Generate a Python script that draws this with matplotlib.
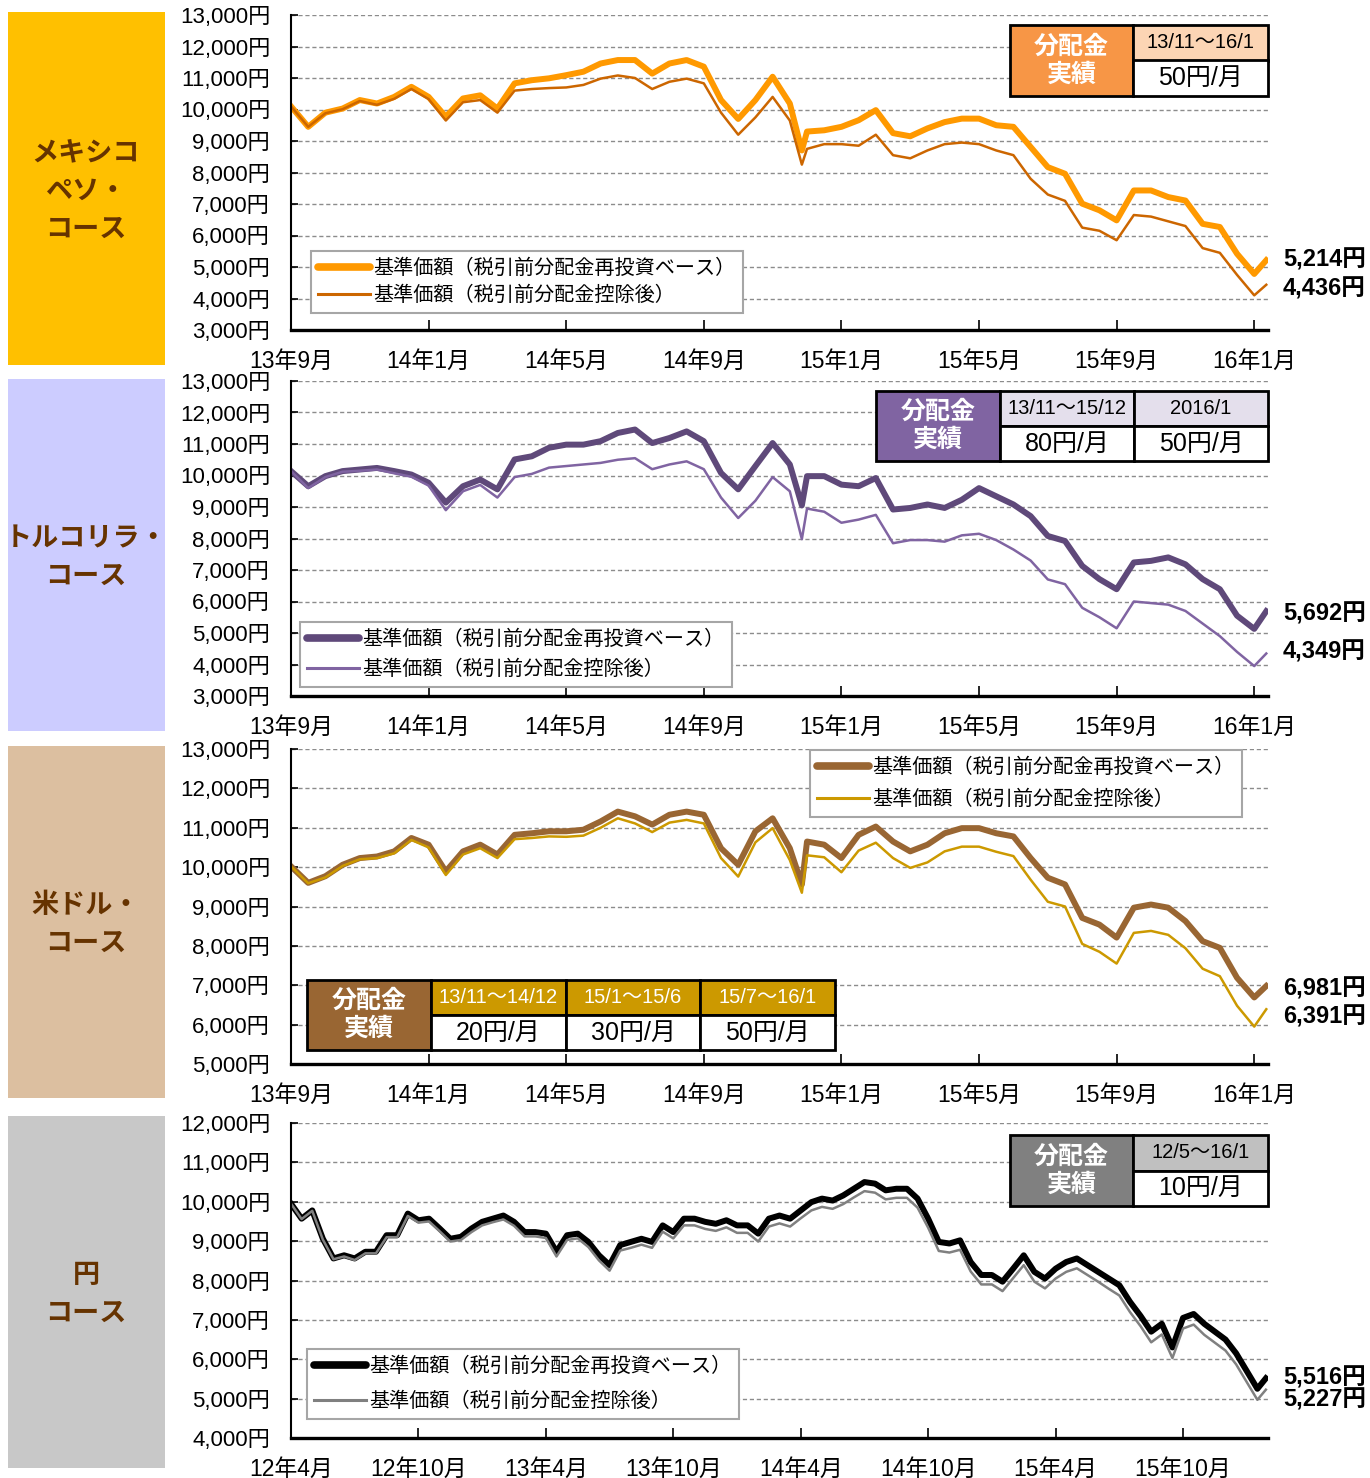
import numpy as np
import matplotlib.pyplot as plt
from matplotlib.patches import Rectangle
from matplotlib.lines import Line2D

plt.rcParams['font.family'] = ['Liberation Sans', 'Noto Sans CJK JP', 'DejaVu Sans']
JP = ['Noto Sans CJK JP', 'DejaVu Sans']

W, H = 1370, 1478

# months from 13年9月 (panels 1-3, extra point at the Dec-2014 drop) and from 12年4月 (yen panel)
m_a = np.sort(np.append(np.arange(0, 28.5, 0.5), [14.85, 28.35]))
m_b = np.append(np.arange(0, 46, 0.5), 45.9)

ticks_a = ['13年9月', '14年1月', '14年5月', '14年9月', '15年1月', '15年5月', '15年9月', '16年1月']
ticks_b = ['12年4月', '12年10月', '13年4月', '13年10月', '14年4月', '14年10月', '15年4月', '15年10月']

labels = ['基準価額（税引前分配金再投資ベース）', '基準価額（税引前分配金控除後）']

# メキシコペソ
mxn_re = [10100, 9450, 9900, 10030, 10300, 10190, 10400, 10720, 10400, 9770,
          10350, 10450, 10030, 10830, 10930, 10990, 11090, 11200, 11460, 11570,
          11570, 11140, 11460, 11570, 11360, 10300, 9700, 10300, 11040, 10190,
          8700,
          9300, 9340, 9450, 9660, 9980, 9250, 9150, 9400, 9600, 9710,
          9710, 9500, 9450, 8810, 8170, 7960, 7010, 6800, 6480, 7430,
          7430, 7220, 7110, 6370, 6270, 5420, 4780, 5214]
mxn_af = [10100, 9450, 9880, 10010, 10270, 10150, 10340, 10650, 10330, 9650,
          10230, 10300, 9900, 10600, 10650, 10680, 10700, 10780, 10980, 11080,
          11000, 10650, 10880, 10980, 10830, 9900, 9200, 9750, 10400, 9650,
          8250,
          8750, 8900, 8900, 8850, 9200, 8550, 8450, 8700, 8900, 8950,
          8900, 8700, 8550, 7800, 7300, 7100, 6250, 6150, 5850, 6650,
          6600, 6450, 6300, 5600, 5450, 4750, 4100, 4436]

# トルコリラ
try_re = [10140, 9660, 9980, 10140, 10190, 10240, 10140, 10030, 9770, 9140,
          9660, 9870, 9560, 10510, 10610, 10880, 10980, 10980, 11090, 11350,
          11460, 11030, 11190, 11400, 11090, 10080, 9560, 10300, 11030, 10350,
          9050,
          9980, 9980, 9710, 9660, 9920, 8920, 8970, 9080, 8970, 9230,
          9600, 9340, 9080, 8710, 8080, 7920, 7130, 6710, 6390, 7240,
          7290, 7400, 7180, 6710, 6390, 5550, 5130, 5692]
try_af = [10140, 9600, 9950, 10120, 10150, 10190, 10070, 9960, 9680, 8900,
          9500, 9700, 9300, 9950, 10050, 10250, 10300, 10350, 10400, 10500,
          10550, 10200, 10350, 10450, 10200, 9300, 8650, 9200, 9950, 9500,
          7980,
          8950, 8850, 8500, 8600, 8750, 7850, 7950, 7950, 7900, 8100,
          8150, 7950, 7650, 7300, 6700, 6550, 5800, 5500, 5150, 6000,
          5950, 5900, 5700, 5300, 4900, 4400, 3950, 4349]

# 米ドル
usd_re = [10020, 9600, 9770, 10060, 10230, 10270, 10400, 10740, 10570, 9890,
          10400, 10570, 10320, 10820, 10860, 10910, 10910, 10950, 11160, 11410,
          11290, 11080, 11330, 11410, 11330, 10480, 10060, 10910, 11240, 10480,
          9560,
          10650, 10570, 10230, 10820, 11030, 10650, 10400, 10570, 10860, 10990,
          10990, 10860, 10780, 10230, 9730, 9560, 8710, 8540, 8210, 8970,
          9050, 8970, 8630, 8120, 7950, 7190, 6690, 6981]
usd_af = [10020, 9590, 9740, 10030, 10200, 10230, 10350, 10690, 10500, 9800,
          10320, 10480, 10230, 10710, 10740, 10780, 10770, 10800, 11000, 11240,
          11110, 10890, 11130, 11200, 11110, 10230, 9760, 10630, 10990, 10180,
          9350,
          10300, 10250, 9870, 10420, 10620, 10230, 9980, 10120, 10400, 10520,
          10520, 10390, 10280, 9680, 9120, 9000, 8050, 7850, 7550, 8330,
          8380, 8280, 7940, 7420, 7230, 6480, 5950, 6391]

# 円
jpy_re = [9950, 9570, 9780, 9060, 8560, 8640, 8560, 8730, 8730, 9150,
          9150, 9700, 9530, 9570, 9320, 9060, 9110, 9320, 9490, 9570,
          9650, 9490, 9230, 9230, 9190, 8730, 9150, 9190, 8980, 8640,
          8390, 8900, 8980, 9060, 8980, 9400, 9230, 9570, 9570, 9490,
          9440, 9530, 9400, 9400, 9190, 9570, 9650, 9570, 9780, 9990,
          10080, 10030, 10160, 10330, 10500, 10460, 10290, 10330, 10330, 10080,
          9570, 8980, 8940, 9020, 8470, 8140, 8140, 7970, 8300, 8640,
          8220, 8050, 8300, 8470, 8560, 8390, 8220, 8050, 7880, 7460,
          7100, 6700, 6900, 6300, 7050, 7150, 6900, 6700, 6500, 6150,
          5700, 5250, 5516]
jpy_af = [9950, 9560, 9770, 9040, 8540, 8610, 8520, 8690, 8690, 9100,
          9100, 9640, 9470, 9500, 9250, 8990, 9030, 9230, 9400, 9480,
          9550, 9390, 9120, 9120, 9080, 8610, 9030, 9070, 8850, 8510,
          8250, 8760, 8830, 8910, 8830, 9240, 9070, 9400, 9400, 9310,
          9260, 9350, 9210, 9210, 8990, 9370, 9450, 9370, 9580, 9780,
          9870, 9820, 9940, 10110, 10270, 10230, 10060, 10100, 10100, 9850,
          9340, 8750, 8710, 8780, 8230, 7900, 7900, 7730, 8060, 8390,
          7970, 7800, 8050, 8220, 8310, 8140, 7970, 7790, 7620, 7200,
          6840, 6430, 6630, 6030, 6780, 6880, 6620, 6420, 6220, 5870,
          5420, 4970, 5227]

# 分配金実績
mxn_head = ['13/11～16/1']
mxn_val = ['50円/月']
try_head = ['13/11～15/12', '2016/1']
try_val = ['80円/月', '50円/月']
usd_head = ['13/11～14/12', '15/1～15/6', '15/7～16/1']
usd_val = ['20円/月', '30円/月', '50円/月']
jpy_head = ['12/5～16/1']
jpy_val = ['10円/月']

fig = plt.figure(figsize=(W / 100, H / 100), dpi=100)


def fx(x):
    return x / W


def fy(y):
    return 1 - y / H


def caja(x0, y0, x1, y1, color, texto, tcolor, size, bold=False, lw=2):
    fig.patches.append(Rectangle((fx(x0), fy(y1)), fx(x1) - fx(x0), fy(y0) - fy(y1),
                                 transform=fig.transFigure, facecolor=color,
                                 edgecolor='black', lw=lw, zorder=5))
    fig.text(fx((x0 + x1) / 2), fy((y0 + y1) / 2), texto, color=tcolor, fontsize=size,
             fontweight='bold' if bold else 'normal', ha='center', va='center',
             zorder=6, linespacing=1.2)


def tabla(x0, y0, w_left, w_col, h, left_color, head_color, head_tcolor, heads, vals):
    caja(x0, y0, x0 + w_left, y0 + 2 * h, left_color, '分配金\n実績', 'white', 18, bold=True)
    for i in range(len(heads)):
        cx = x0 + w_left + i * w_col
        caja(cx, y0, cx + w_col, y0 + h, head_color, heads[i], head_tcolor, 14.5)
        caja(cx, y0 + h, cx + w_col, y0 + 2 * h, 'white', vals[i], 'black', 18)


def panel(top, bottom, ymin, ymax, x, re, af, xmax, tick_step, tick_labels,
          c_re, c_af, leg_xy, leg_sp, box_y, box_color, titulo, ends):
    ax = fig.add_axes([fx(291), fy(bottom), fx(1268) - fx(291), fy(top) - fy(bottom)])
    ax.plot(x, re, color=c_re, lw=4.3, solid_joinstyle='round')
    ax.plot(x, af, color=c_af, lw=1.8)
    ax.set_xlim(0, xmax)
    ax.set_ylim(ymin, ymax)
    yt = np.arange(ymin, ymax + 1, 1000)
    ax.set_yticks(yt)
    ax.set_yticklabels([f'{v:,}円' for v in yt], fontsize=16)
    ax.set_xticks(np.arange(0, tick_step * len(tick_labels), tick_step))
    ax.set_xticklabels(tick_labels, fontsize=16.5)
    ax.tick_params(axis='x', direction='in', length=7, width=1.2, pad=14)
    ax.tick_params(axis='y', direction='in', length=5, width=1.2, pad=15)
    ax.yaxis.grid(True, color='#8C8C8C', linestyle=(0, (3, 2)), lw=1)
    ax.set_axisbelow(True)
    for s in ['top', 'right']:
        ax.spines[s].set_visible(False)
    ax.spines['left'].set_linewidth(1.5)
    ax.spines['bottom'].set_linewidth(2.4)
    handles = [Line2D([], [], color=c_re, lw=5.5, solid_capstyle='round'),
               Line2D([], [], color=c_af, lw=2.2)]
    leg = ax.legend(handles, labels, loc='upper left', bbox_to_anchor=(fx(leg_xy[0]), fy(leg_xy[1])),
                    bbox_transform=fig.transFigure, prop={'family': JP, 'size': 14.5},
                    frameon=True, fancybox=False, framealpha=1, edgecolor='#A6A6A6',
                    handlelength=2.6, handletextpad=0.15, borderpad=0.35, labelspacing=leg_sp,
                    borderaxespad=0)
    leg.get_frame().set_linewidth(1.5)
    # label box on the left
    fig.patches.append(Rectangle((fx(8), fy(box_y[1])), fx(165) - fx(8), fy(box_y[0]) - fy(box_y[1]),
                                 transform=fig.transFigure, facecolor=box_color, edgecolor='none'))
    fig.text(fx(86), fy((box_y[0] + box_y[1]) / 2 + 2), titulo, family=JP, fontsize=19.5,
             fontweight='bold', color='#663300', ha='center', va='center', linespacing=1.45)
    for y, t in ends:
        fig.text(fx(1283), fy(y), t, fontsize=17, fontweight='bold', ha='left', va='center')
    return ax


panel(15, 330, 3000, 13000, m_a, mxn_re, mxn_af, 28.4, 4, ticks_a, '#FF9900', '#CC6600',
      (311, 251), 0.28, (12, 365), '#FFC000', 'メキシコ\nペソ・\nコース',
      [(260, f'{mxn_re[-1]:,}円'), (289, f'{mxn_af[-1]:,}円')])
tabla(1010, 25, 123, 135, 35.5, '#F79646', '#FCD5B4', 'black', mxn_head, mxn_val)

panel(381, 696, 3000, 13000, m_a, try_re, try_af, 28.4, 4, ticks_a, '#5F497A', '#8064A2',
      (300, 622), 0.43, (379, 731), '#CCCCFF', 'トルコリラ・\nコース',
      [(614, f'{try_re[-1]:,}円'), (652, f'{try_af[-1]:,}円')])
tabla(876, 391, 124, 134, 35, '#8064A2', '#E4DFEC', 'black', try_head, try_val)

panel(749, 1064, 5000, 13000, m_a, usd_re, usd_af, 28.4, 4, ticks_a, '#996633', '#CC9900',
      (810, 750), 0.53, (746, 1098), '#DCBFA0', '米ドル・\nコース',
      [(989, f'{usd_re[-1]:,}円'), (1017, f'{usd_af[-1]:,}円')])
tabla(307, 980, 124, 134.7, 35, '#996633', '#CC9900', 'white', usd_head, usd_val)

panel(1123, 1438, 4000, 12000, m_b, jpy_re, jpy_af, 46, 6, ticks_b, '#000000', '#808080',
      (307, 1349), 0.68, (1116, 1468), '#C8C8C8', '円\nコース',
      [(1378, f'{jpy_re[-1]:,}円'), (1400, f'{jpy_af[-1]:,}円')])
tabla(1010, 1135, 123, 135, 35.5, '#808080', '#C0C0C0', 'black', jpy_head, jpy_val)

fig.savefig('out.png', dpi=100)
